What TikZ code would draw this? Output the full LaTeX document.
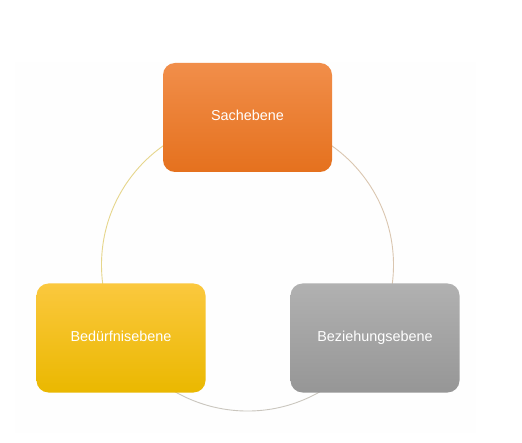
\documentclass[tikz,border=0pt]{standalone}
\usepackage{fontspec}
\setmainfont{Liberation Sans}
\definecolor{orTop}{RGB}{241,142,74}
\definecolor{orBot}{RGB}{229,113,30}
\definecolor{yeTop}{RGB}{251,200,62}
\definecolor{yeMid}{RGB}{255,197,0}
\definecolor{yeBot}{RGB}{234,184,0}
\definecolor{grTop}{RGB}{177,177,177}
\definecolor{grBot}{RGB}{150,150,150}
\definecolor{arcL}{RGB}{230,214,140}
\definecolor{arcR}{RGB}{218,198,176}
\definecolor{arcB}{RGB}{202,198,190}
\definecolor{bgfaint}{RGB}{254,254,254}
\tikzset{
  levelbox/.style={rounded corners=12pt, minimum width=169pt, minimum height=109pt,
    inner sep=0pt, text=white, text height=1.5ex, text depth=0.3ex,
    font=\fontsize{14.4}{17}\selectfont},
  ringarc/.style={line width=0.9pt}
}
\begin{document}
\begin{tikzpicture}[x=1pt,y=1pt]
\useasboundingbox (0,0) rectangle (522,442);
\fill[white] (0,0) rectangle (522,442);
\fill[bgfaint] (15,9) rectangle (476,380);
\coordinate (c) at (247.5,177);
\draw[ringarc, arcL] (c) ++(90:146pt) arc[start angle=90, end angle=210, radius=146pt];
\draw[ringarc, arcR] (c) ++(90:146pt) arc[start angle=90, end angle=-30, radius=146pt];
\draw[ringarc, arcB] (c) ++(210:146pt) arc[start angle=210, end angle=330, radius=146pt];
\node[levelbox, top color=orTop, bottom color=orBot] (sach) at (247.5,324.5) {Sachebene};
\node[levelbox, top color=yeTop, middle color=yeMid, bottom color=yeBot] (bed) at (121,104) {Bedürfnisebene};
\node[levelbox, top color=grTop, bottom color=grBot] (bez) at (375,104) {Beziehungsebene};
\end{tikzpicture}
\end{document}
